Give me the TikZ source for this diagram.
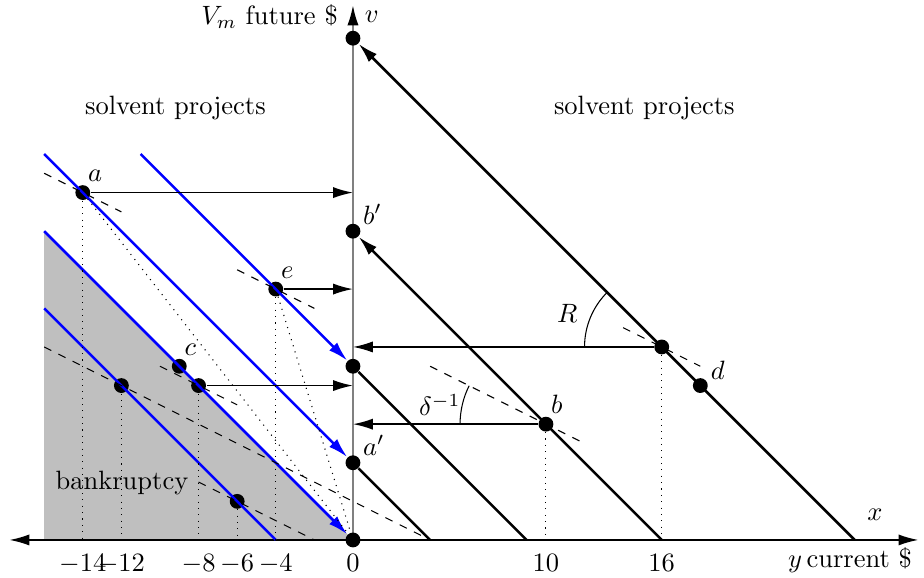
\documentclass[tikz,border=0pt]{standalone}
\usepackage{amsmath}
\usepackage{tikz}
\usetikzlibrary{arrows.meta, calc}
\definecolor{Shade}{gray}{0.75}
\definecolor{AxisGray}{gray}{0.5}
\tikzset{
  pdot/.style={circle, fill=black, inner sep=0pt, minimum size=5.6pt},
  tip/.style={-{Latex[length=7.5pt,width=4.2pt]}},
  arr/.style={tip, semithick},
  debt/.style={line width=0.95pt},
  proj/.style={line width=0.95pt, blue},
  iso/.style={dashed, thin},
  drop/.style={dotted, thin}
}

\begin{document}
\begin{tikzpicture}[x=0.256cm, y=0.256cm]
  \useasboundingbox (-18.29,-1.92) rectangle (29.59,27.98);
  % bankruptcy region
  \fill[Shade] (-16,0) -- (-16,16) -- (0,0) -- cycle;

  % axes
  \draw[{Latex[length=7.5pt,width=4.2pt]}-{Latex[length=7.5pt,width=4.2pt]}, semithick]
    (-17.8,0) -- (29.3,0);
  \draw[semithick, AxisGray, -{Latex[length=7.5pt,width=4.2pt,black]}] (0,0) -- (0,27.7);

  % points
  \node[pdot] (O)   at (0,0) {};
  \node[pdot, label={[inner sep=1pt]75:$a$}]         (a)   at (-14,18) {};
  \node[pdot, label={[inner sep=1pt]30:$a'$}]        (ap)  at (0,4) {};
  \node[pdot, label={[inner sep=1pt]75:$e$}]         (e)   at (-4,13) {};
  \node[pdot, label={[inner sep=1pt]75:$c$}]         (c)   at (-9,9) {};
  \node[pdot] (f)   at (-8,8) {};
  \node[pdot] (g)   at (-12,8) {};
  \node[pdot] (h)   at (-6,2) {};
  \node[pdot] (m)   at (0,9) {};
  \node[pdot, label={[inner sep=1pt]30:$b'$}]        (bp)  at (0,16) {};
  \node[pdot, label={[inner sep=1pt]75:$b$}]         (b)   at (10,6) {};
  \node[pdot] (k)   at (16,10) {};
  \node[pdot, label={[inner sep=1pt]20:$d$}]         (d)   at (18,8) {};
  \node[pdot] (top) at (0,26) {};

  % ends of the lines on the axes
  \coordinate (x26) at (26,0);
  \coordinate (x16) at (16,0);
  \coordinate (x9)  at (9,0);
  \coordinate (x4)  at (4,0);

  % debt lines, slope R
  \draw[debt, tip] (x26) -- (top);
  \draw[debt, tip] (x16) -- (bp);
  \draw[debt] (m) -- (x9);
  \draw[debt] (ap) -- (x4);

  % projects
  \draw[proj, tip] (-16,20) -- (ap);
  \draw[proj, tip] (-11,20) -- (m);
  \draw[proj, tip] (-16,16) -- (O);
  \draw[proj] (-16,12) -- (-4,0);

  % present value lines
  \foreach \p in {a,e,f,k}{ \draw[iso] ($(\p)+(-2,1)$) -- ($(\p)+(2,-1)$); }
  \draw[iso] ($(b)+(-6,3)$) -- ($(b)+(2,-1)$);
  \draw[iso] (-16,10) -- (x4);
  \draw[iso] ($(h)+(-2,1)$) -- ($(h)+(4,-2)$);

  % drops to the axis
  \foreach \p in {a,g,f,e,h,b,k}{ \draw[drop] (\p) -- (\p |- O); }
  \draw[drop] (a) -- (O);
  \draw[drop] (e) -- (O);

  % transfers to the v axis
  \foreach \p in {a,e,f,k,b}{ \draw[arr] (\p) -- (\p -| O); }

  % angles
  \draw[thin] ($(k)+(135:4)$) arc (135:180:4);
  \draw[thin] ($(b)+(153.43:4.45)$) arc (153.43:180:4.45);
  \node (R)   at (11.1,11.75) {$R$};
  \node (del) at (4.5,7.0) {$\delta^{-1}$};

  % tick labels
  \foreach \t in {-14,-12,-8,-6,-4,0,10,16}{ \node[below, inner sep=2pt] (t\t) at (\t,-0.45) {$\t$}; }

  % axis and region labels
  \node[anchor=east] (vlab) at (-0.3,27.1) {$V_m$ future \$};
  \node[anchor=west, inner sep=1pt] (vname) at (0.45,27.1) {$v$};
  \node (xname) at (27.05,1.3) {$x$};
  \node[anchor=east] (ylab) at (29.45,-1.05) {$y$\,current \$};
  \node (sl) at (-9.2,22.4) {solvent projects};
  \node (sr) at (15.1,22.4) {solvent projects};
  \node (bk) at (-11.97,2.95) {bankruptcy};
\end{tikzpicture}
\end{document}
